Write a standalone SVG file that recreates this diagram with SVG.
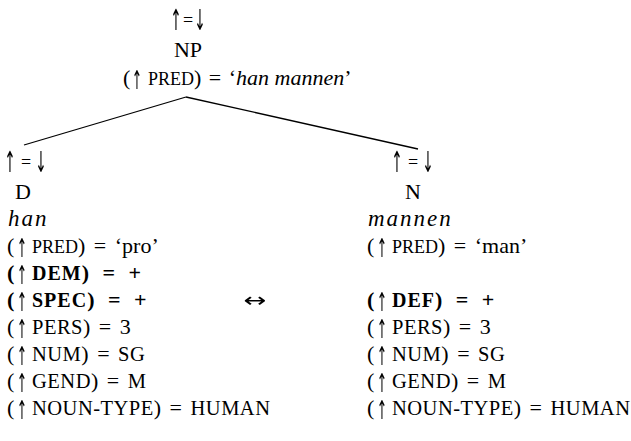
<svg xmlns="http://www.w3.org/2000/svg" width="631" height="441" viewBox="0 0 631 441">
  <style>
    text { font-family: "Liberation Serif", "Times New Roman", serif; font-size: 22px; fill: #000; word-spacing: 3px; }
    .ar { font-family: "DejaVu Sans", sans-serif; font-size: 20px; text-anchor: middle; word-spacing: 0; filter: url(#mono); }
    .eq { font-size: 18px; text-anchor: middle; }
    .sc { font-size: 18px; }
    .cap { font-size: 20.5px; letter-spacing: 0.5px; }
    .b { font-weight: bold; word-spacing: 8px; }
    .bc { font-size: 20px; letter-spacing: 1px; }
    .i { font-style: italic; word-spacing: 0; }
    .iw { font-style: italic; font-size: 23px; letter-spacing: 2px; }
    .edge { stroke: #000; stroke-width: 1.3; fill: none; }
  </style>
  <defs>
    <!-- keeps the stretched arrow glyphs free of colour fringes -->
    <filter id="mono" x="-20%" y="-20%" width="140%" height="140%">
      <feColorMatrix type="saturate" values="0"/>
    </filter>
    <!-- tall, thin arrow glyph used in every (↑ …) equation -->
    <text id="up" class="ar" transform="scale(0.62,1.3)">↑</text>
    <!-- taller arrows for the ↑=↓ annotations -->
    <text id="upT" class="ar" transform="scale(0.68,1.45)">↑</text>
    <text id="downT" class="ar" transform="scale(0.68,1.45)">↓</text>
  </defs>
  <rect width="631" height="441" fill="#fff"/>

  <!-- tree branches -->
  <g id="connectors">
    <line class="edge" x1="186" y1="97" x2="24" y2="145"/>
    <line class="edge" x1="186" y1="97" x2="418" y2="149"/>
  </g>

  <!-- mother node -->
  <g id="node-NP">
    <use href="#upT" x="176" y="30"/>
    <text class="eq" x="188" y="26">=</text>
    <use href="#downT" x="200" y="30"/>
    <text x="188" y="57" text-anchor="middle">NP</text>
    <use href="#up" x="137" y="89"/>
    <text x="123" y="85" style="word-spacing:2px">(<tspan x="148" class="sc">PRED</tspan>) = ‘<tspan class="i">han mannen</tspan>’</text>
  </g>

  <!-- left daughter -->
  <g id="node-D">
    <use href="#upT" x="10" y="172"/>
    <text class="eq" x="26" y="168">=</text>
    <use href="#downT" x="41" y="172"/>
    <text x="15" y="199">D</text>
    <text x="8" y="226" class="iw">han</text>

    <use href="#up" x="22" y="257"/>
    <text x="7" y="253">(<tspan x="32" class="sc">PRED</tspan>) = ‘pro’</text>
    <use href="#up" x="22" y="284"/>
    <text x="7" y="280" class="b">(<tspan x="32" class="bc">DEM</tspan>) = +</text>
    <use href="#up" x="22" y="311"/>
    <text x="7" y="307" class="b">(<tspan x="32" class="bc">SPEC</tspan>) = +</text>
    <use href="#up" x="22" y="338"/>
    <text x="7" y="334">(<tspan x="32" class="cap">PERS</tspan>) = 3</text>
    <use href="#up" x="22" y="365"/>
    <text x="7" y="361">(<tspan x="32" class="cap">NUM</tspan>) = <tspan class="cap">SG</tspan></text>
    <use href="#up" x="22" y="392"/>
    <text x="7" y="388">(<tspan x="32" class="cap">GEND</tspan>) = <tspan class="cap">M</tspan></text>
    <use href="#up" x="22" y="419"/>
    <text x="7" y="415">(<tspan x="32" class="cap">NOUN-TYPE</tspan>) = <tspan class="cap">HUMAN</tspan></text>
  </g>

  <!-- correspondence between the two daughters -->
  <g id="node-link">
    <text class="ar" style="font-size:32px" transform="translate(255,307) scale(0.85,0.62)">↔</text>
  </g>

  <!-- right daughter -->
  <g id="node-N">
    <use href="#upT" x="397" y="172"/>
    <text class="eq" x="413" y="168">=</text>
    <use href="#downT" x="428" y="172"/>
    <text x="413" y="199" text-anchor="middle">N</text>
    <text x="368" y="226" class="iw">mannen</text>

    <use href="#up" x="382" y="257"/>
    <text x="367" y="253">(<tspan x="392" class="sc">PRED</tspan>) = ‘man’</text>
    <use href="#up" x="382" y="311"/>
    <text x="367" y="307" class="b">(<tspan x="392" class="bc">DEF</tspan>) = +</text>
    <use href="#up" x="382" y="338"/>
    <text x="367" y="334">(<tspan x="392" class="cap">PERS</tspan>) = 3</text>
    <use href="#up" x="382" y="365"/>
    <text x="367" y="361">(<tspan x="392" class="cap">NUM</tspan>) = <tspan class="cap">SG</tspan></text>
    <use href="#up" x="382" y="392"/>
    <text x="367" y="388">(<tspan x="392" class="cap">GEND</tspan>) = <tspan class="cap">M</tspan></text>
    <use href="#up" x="382" y="419"/>
    <text x="367" y="415">(<tspan x="392" class="cap">NOUN-TYPE</tspan>) = <tspan class="cap">HUMAN</tspan></text>
  </g>
</svg>
